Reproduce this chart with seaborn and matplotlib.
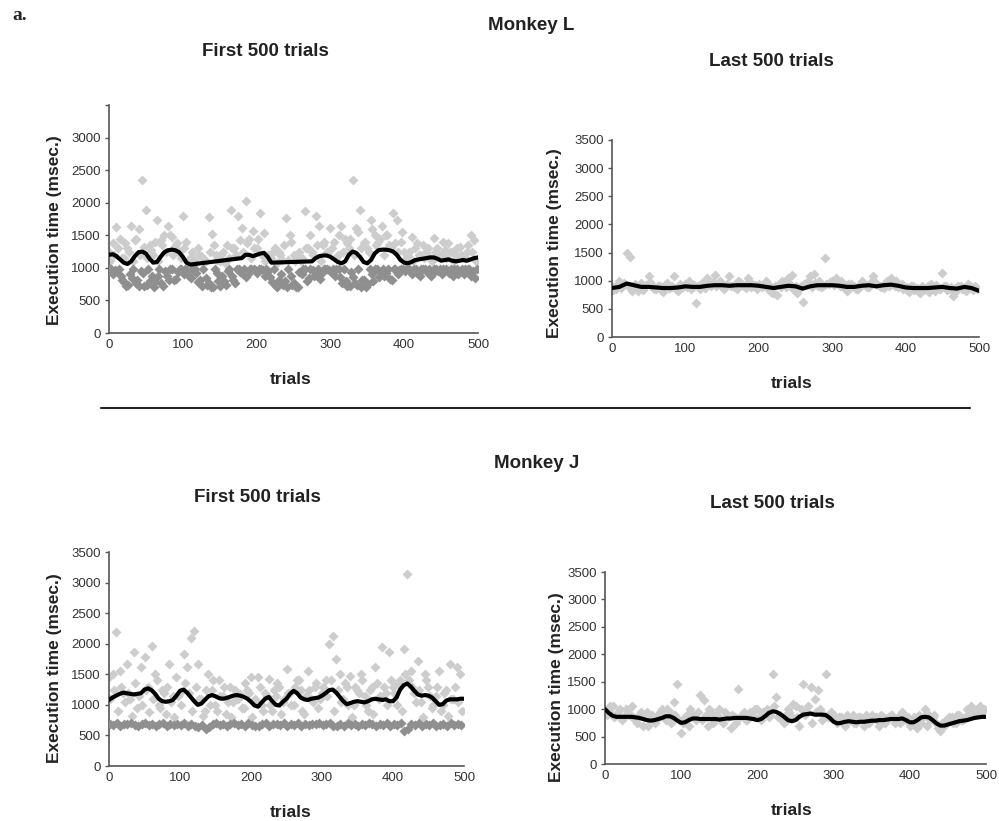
import numpy as np
import matplotlib
matplotlib.use("Agg")
from matplotlib import pyplot as plt
from matplotlib.lines import Line2D
import seaborn as sns

# trial indices for the plotted samples
trials_a = np.arange(0, 500, 5)
trials_b = trials_a + 2
trials_c = trials_a + 1
trials_d = trials_a + 3
trials_line5 = np.arange(0, 501, 5)
trials_line10 = np.arange(0, 501, 10)

# ---- Monkey L, first 500 trials ----
l_first_light_a = [1250, 1380, 1620, 1450, 1150, 1300, 1640, 1420, 1600, 2350, 1890, 1350, 1200, 1740, 1420, 1500, 1640, 1480, 1330, 1250,
                   1790, 1400, 1150, 1120, 1300, 1180, 1100, 1780, 1520, 1200, 1100, 1250, 1350, 1890, 1300, 1790, 1610, 2020, 1450, 1560,
                   1300, 1840, 1530, 1200, 1150, 1300, 1250, 1120, 1760, 1510, 1200, 1150, 1100, 1870, 1300, 1250, 1790, 1640, 1350, 1250,
                   1610, 1400, 1200, 1640, 1450, 1300, 2350, 1610, 1890, 1380, 1300, 1740, 1500, 1400, 1640, 1500, 1350, 1840, 1740, 1400,
                   1250, 1180, 1480, 1300, 1200, 1350, 1250, 1150, 1460, 1300, 1200, 1280, 1380, 1250, 1200, 1320, 1180, 1250, 1510, 1430]
l_first_light_b = [1100, 1200, 1300, 1150, 1380, 1250, 1100, 1450, 1200, 1320, 1150, 1280, 1400, 1100, 1350, 1250, 1500, 1200, 1380, 1150,
                   1300, 1100, 1250, 1080, 1200, 1150, 1100, 1250, 1350, 1120, 1200, 1080, 1150, 1300, 1200, 1420, 1250, 1380, 1150, 1300,
                   1450, 1200, 1100, 1150, 1250, 1080, 1200, 1350, 1120, 1400, 1100, 1250, 1150, 1300, 1500, 1200, 1350, 1100, 1400, 1250,
                   1300, 1150, 1500, 1250, 1380, 1450, 1200, 1550, 1300, 1400, 1250, 1600, 1350, 1450, 1200, 1500, 1300, 1380, 1250, 1550,
                   1150, 1250, 1100, 1380, 1200, 1150, 1300, 1100, 1250, 1200, 1400, 1150, 1250, 1100, 1300, 1200, 1150, 1350, 1250, 1100]
l_first_dark_a = [990, 900, 950, 880, 780, 730, 850, 760, 720, 920, 740, 800, 710, 880, 760, 950, 820, 980, 830, 990,
                  900, 960, 850, 990, 780, 720, 840, 760, 700, 920, 720, 800, 950, 870, 760, 990, 900, 860, 980, 990,
                  920, 990, 880, 950, 780, 720, 820, 740, 710, 880, 760, 700, 900, 990, 850, 960, 900, 830, 980, 990,
                  940, 880, 990, 760, 800, 720, 860, 730, 710, 820, 750, 900, 980, 860, 990, 920, 830, 980, 900, 990,
                  950, 990, 900, 980, 880, 990, 930, 870, 990, 950, 900, 980, 920, 880, 990, 940, 900, 980, 870, 850]
l_first_dark_b = [990, 960, 990, 820, 720, 900, 990, 820, 950, 720, 990, 880, 780, 990, 720, 880, 990, 820, 930, 990,
                  990, 880, 990, 920, 820, 990, 740, 700, 990, 800, 880, 740, 990, 820, 990, 940, 990, 900, 990, 960,
                  990, 960, 990, 860, 990, 700, 900, 800, 990, 740, 700, 940, 990, 800, 990, 880, 990, 920, 990, 960,
                  990, 990, 860, 990, 720, 940, 760, 990, 820, 710, 990, 800, 990, 940, 880, 990, 820, 990, 960, 990,
                  990, 960, 990, 920, 990, 980, 990, 900, 990, 990, 990, 960, 990, 990, 900, 990, 980, 990, 950, 990]
l_first_avg = [1200, 1210, 1180, 1130, 1080, 1060, 1100, 1180, 1240, 1250, 1220, 1140, 1080, 1090, 1170, 1240, 1270, 1280, 1270, 1240,
               1170, 1080, 1050, None, None, None, None, None, None, None, None, None, None, None, None, None, 1150, 1200, 1200, 1180,
               1200, 1220, 1230, 1170, 1080, None, None, None, None, None, None, None, None, None, None, 1100, 1150, 1180, 1190, 1190,
               1170, 1130, 1090, 1070, 1100, 1200, 1250, 1230, 1170, 1090, 1070, 1120, 1220, 1270, 1280, 1280, 1270, 1250, 1200, 1120,
               1080, 1070, 1090, 1120, 1130, 1140, 1150, 1160, 1160, 1140, 1110, 1120, 1130, 1110, 1100, 1110, 1120, 1110, 1130, 1150,
               1160]

# ---- Monkey L, last 500 trials ----
l_last_light_a = [900, 850, 1000, 950, 1490, 1430, 880, 820, 960, 900, 1075, 920, 850, 900, 800, 960, 880, 1075, 820, 900,
                  950, 1000, 880, 600, 860, 920, 1050, 900, 1100, 950, 880, 920, 1080, 900, 850, 980, 900, 1050, 880, 920,
                  950, 880, 1000, 900, 780, 750, 880, 950, 1050, 1100, 900, 860, 630, 950, 1080, 1120, 900, 880, 1410, 950,
                  1000, 1050, 900, 880, 820, 950, 900, 850, 1000, 920, 880, 1075, 950, 900, 870, 1000, 1050, 900, 880, 950,
                  850, 800, 900, 870, 780, 850, 900, 950, 820, 870, 1135, 900, 850, 720, 880, 900, 850, 950, 880, 900]
l_last_light_b = [830, 920, 870, 960, 900, 820, 950, 880, 840, 920, 980, 860, 900, 840, 930, 870, 910, 850, 940, 880,
                  880, 850, 930, 900, 960, 870, 940, 980, 900, 1000, 860, 950, 900, 880, 1000, 920, 870, 1000, 900, 860,
                  900, 940, 860, 800, 900, 950, 1000, 880, 940, 860, 780, 900, 950, 1000, 880, 960, 1000, 900, 950, 980,
                  920, 960, 1000, 880, 940, 900, 860, 920, 950, 880, 960, 1000, 920, 880, 960, 900, 940, 1000, 900, 860,
                  880, 900, 840, 820, 900, 860, 800, 880, 920, 860, 900, 840, 880, 800, 900, 860, 820, 880, 840, 860]
l_last_avg = [870, 890, 950, 920, 890, 890, 880, 870, 870, 880, 900, 890, 890, 910, 920, 920, 910, 920, 920, 920,
              910, 890, 870, 890, 910, 900, 860, 900, 920, 920, 920, 910, 890, 890, 910, 920, 900, 920, 930, 910,
              880, 870, 870, 870, 880, 890, 870, 860, 890, 870, 820]

# ---- Monkey J, first 500 trials ----
j_first_light_a = [1450, 1505, 2185, 1560, 1200, 1670, 1100, 1860, 950, 1615, 1777, 1300, 1967, 1505, 1000, 1250, 850, 1670, 1150, 1450,
                   1200, 1830, 1615, 2100, 2210, 1670, 1100, 900, 1505, 1250, 1000, 1400, 1150, 850, 1300, 1050, 1200, 1180, 950, 1250,
                   1450, 1100, 1450, 1000, 1200, 1425, 900, 1150, 1300, 1050, 1590, 1200, 1000, 1400, 1250, 850, 1560, 1100, 1300, 950,
                   1200, 1400, 1995, 2130, 1750, 1505, 1100, 1300, 1480, 1000, 1250, 1505, 1150, 900, 1300, 1615, 1100, 1940, 1200, 1860,
                   1300, 1000, 1400, 1913, 3136, 1560, 1200, 1723, 1050, 1505, 1300, 950, 1150, 1560, 1000, 1250, 1670, 1100, 1615, 1505]
j_first_light_b = [1100, 1250, 900, 1300, 1050, 1200, 820, 1350, 1150, 1000, 1250, 880, 1100, 1400, 950, 1200, 1300, 1050, 800, 1150,
                   1000, 1350, 1200, 900, 1300, 1100, 820, 1250, 1000, 1400, 900, 1150, 1300, 1050, 800, 1250, 1100, 950, 1350, 1200,
                   800, 1050, 1300, 900, 1150, 1000, 1250, 1350, 850, 1100, 1200, 1000, 1300, 1400, 900, 1150, 1250, 1050, 1350, 1100,
                   1300, 1150, 1400, 900, 1250, 1050, 1350, 1000, 800, 1300, 1200, 1400, 1000, 1250, 850, 1350, 1150, 1300, 1000, 1400,
                   1200, 1350, 900, 1500, 1400, 1300, 1050, 1250, 800, 1400, 1150, 1000, 1300, 900, 1200, 820, 1100, 1300, 1050, 900]
j_first_dark = [690, 670, 700, 660, 690, 680, 700, 670, 660, 690, 700, 670, 690, 660, 680, 700, 660, 690, 670, 690,
                670, 700, 660, 690, 660, 640, 670, 600, 630, 690, 700, 670, 690, 660, 680, 700, 670, 690, 660, 700,
                670, 650, 660, 690, 700, 660, 680, 690, 670, 700, 660, 690, 670, 700, 660, 690, 670, 690, 680, 700,
                670, 690, 700, 660, 660, 680, 650, 700, 670, 690, 660, 690, 670, 700, 680, 660, 690, 670, 700, 660,
                690, 670, 700, 570, 600, 680, 670, 700, 660, 690, 670, 700, 660, 670, 690, 660, 700, 670, 690, 670]
j_first_avg = [1080, 1120, 1150, 1180, 1200, 1190, 1180, 1170, 1180, 1190, 1250, 1270, 1240, 1180, 1100, 1060, 1050, 1060, 1080, 1150,
               1230, 1250, 1200, 1130, 1060, 1000, 1020, 1080, 1140, 1160, 1140, 1110, 1100, 1110, 1130, 1150, 1160, 1150, 1130, 1100,
               1050, 990, 970, 1040, 1100, 1130, 1060, 1000, 990, 1050, 1100, 1180, 1230, 1190, 1120, 1090, 1080, 1100, 1110, 1120,
               1150, 1190, 1240, 1250, 1200, 1130, 1060, 1010, 1030, 1050, 1060, 1050, 1040, 1060, 1090, 1100, 1090, 1080, 1090, 1060,
               1060, 1120, 1250, 1320, 1350, 1300, 1230, 1170, 1150, 1160, 1150, 1120, 1060, 1000, 1010, 1070, 1090, 1090, 1090, 1100,
               1100]

# ---- Monkey J, last 500 trials ----
j_last_light_a = [1000, 950, 1050, 900, 1000, 850, 950, 1050, 800, 900, 700, 950, 850, 750, 900, 1000, 800, 950, 1133, 1464,
                  560, 850, 700, 900, 800, 1253, 1163, 700, 950, 850, 1000, 750, 900, 650, 850, 1373, 900, 800, 950, 850,
                  1000, 800, 950, 850, 1645, 1223, 900, 750, 1000, 850, 1050, 700, 1464, 950, 1404, 1193, 1343, 800, 1645, 850,
                  900, 750, 850, 700, 800, 900, 750, 850, 700, 800, 900, 850, 700, 850, 800, 900, 750, 850, 950, 800,
                  700, 850, 650, 750, 1000, 900, 850, 750, 600, 700, 800, 850, 750, 900, 800, 1000, 1050, 900, 1000, 950]
j_last_light_b = [900, 1050, 850, 950, 800, 1000, 900, 850, 750, 950, 850, 700, 900, 800, 950, 850, 1000, 750, 900, 800,
                  750, 900, 1000, 850, 950, 800, 900, 1000, 750, 900, 800, 950, 850, 900, 750, 850, 950, 800, 900, 1000,
                  850, 950, 1000, 900, 1050, 850, 800, 900, 950, 1100, 850, 1000, 900, 1050, 750, 950, 1000, 900, 850, 950,
                  800, 850, 750, 900, 800, 750, 850, 800, 900, 750, 850, 800, 900, 750, 850, 900, 800, 750, 900, 850,
                  800, 750, 900, 850, 700, 800, 900, 650, 750, 800, 850, 750, 900, 800, 850, 900, 1000, 950, 1050, 1000]
j_last_avg = [1000, 930, 880, 860, 860, 860, 860, 860, 850, 840, 820, 800, 790, 800, 820, 840, 870, 870, 840, 790,
              750, 760, 800, 830, 830, 820, 820, 820, 820, 820, 810, 820, 830, 830, 840, 840, 840, 840, 830, 820,
              800, 820, 870, 930, 960, 950, 910, 860, 800, 780, 800, 860, 900, 910, 920, 900, 900, 900, 890, 840,
              770, 740, 750, 770, 780, 770, 760, 770, 770, 780, 790, 790, 800, 800, 810, 820, 820, 820, 830, 800,
              760, 760, 800, 850, 860, 850, 800, 740, 700, 700, 720, 740, 760, 780, 790, 800, 820, 840, 850, 860,
              860]

light = "#cdcdcd"
dark = "#8f8f8f"

sns.set_style("white")
plt.rcParams['font.family'] = ['Liberation Sans', 'DejaVu Sans']

W, H = 999, 821
fig = plt.figure(figsize=(W / 100, H / 100), dpi=100)


def px_axes(left, right, bottom, top):
    return fig.add_axes([left / W, 1 - bottom / H, (right - left) / W, (bottom - top) / H])


def draw_panel(ax, lights, darks, avg, avg_x, show_top_label=True):
    for tx, vals in lights:
        sns.scatterplot(x=tx, y=np.array(vals, dtype=float), ax=ax, marker="D", s=26,
                        color=light, linewidth=0, legend=False, zorder=2)
    for tx, vals in darks:
        sns.scatterplot(x=tx, y=np.array(vals, dtype=float), ax=ax, marker="D", s=26,
                        color=dark, linewidth=0, legend=False, zorder=3)
    avg = np.array([np.nan if v is None else v for v in avg], dtype=float)
    sns.lineplot(x=avg_x, y=avg, ax=ax, color="black", linewidth=3, zorder=4)
    ax.set_xlim(0, 500)
    ax.set_ylim(0, 3500)
    ax.set_xticks(range(0, 501, 100))
    ax.set_yticks(range(0, 3501, 500))
    if not show_top_label:
        ax.set_yticklabels([str(v) for v in range(0, 3001, 500)] + [""])
    for side in ["top", "right"]:
        ax.spines[side].set_visible(False)
    for side in ["left", "bottom"]:
        ax.spines[side].set_color("#555555")
        ax.spines[side].set_linewidth(1.2)
    ax.tick_params(axis="y", length=3, width=1, color="#555555", labelsize=9.5,
                   labelcolor="#333333", pad=3, left=True)
    ax.tick_params(axis="x", length=0, labelsize=9.5, labelcolor="#333333", pad=4)
    ax.set_xlabel("")
    ax.set_ylabel("")


ax1 = px_axes(109, 478, 333, 105)
draw_panel(ax1, [(trials_a, l_first_light_a), (trials_b, l_first_light_b)],
           [(trials_c, l_first_dark_a), (trials_d, l_first_dark_b)],
           l_first_avg, trials_line5, show_top_label=False)

ax2 = px_axes(612, 979, 337, 140)
draw_panel(ax2, [(trials_a, l_last_light_a), (trials_b, l_last_light_b)], [],
           l_last_avg, trials_line10)

ax3 = px_axes(109, 464, 766, 552)
draw_panel(ax3, [(trials_a, j_first_light_a), (trials_b, j_first_light_b)],
           [(trials_c, j_first_dark)], j_first_avg, trials_line5)

ax4 = px_axes(605, 986, 764, 572)
draw_panel(ax4, [(trials_a, j_last_light_a), (trials_b, j_last_light_b)], [],
           j_last_avg, trials_line5)


def ftext(x, y, s, **kw):
    fig.text(x / W, 1 - y / H, s, ha="center", va="center", **kw)


ftext(20, 15, "a.", fontsize=14, fontweight="bold", family="Liberation Serif")
ftext(531, 25, "Monkey L", fontsize=13.5, fontweight="bold", color="#222222")
ftext(537, 464, "Monkey J", fontsize=13.5, fontweight="bold", color="#222222")
ftext(265, 52, "First 500 trials", fontsize=13.5, fontweight="bold", color="#222222")
ftext(771, 62, "Last 500 trials", fontsize=13.5, fontweight="bold", color="#222222")
ftext(257, 497, "First 500 trials", fontsize=13.5, fontweight="bold", color="#222222")
ftext(772, 503, "Last 500 trials", fontsize=13.5, fontweight="bold", color="#222222")
for x, y in [(291, 380), (792, 383), (291, 812), (792, 810)]:
    ftext(x, y, "trials", fontsize=12.5, fontweight="bold", color="#222222")
for x, y in [(55, 230), (555, 243), (55, 668), (557, 687)]:
    ftext(x, y, "Execution time (msec.)", fontsize=12.5, fontweight="bold",
          color="#222222", rotation=90)

fig.add_artist(Line2D([101 / W, 970 / W], [1 - 408 / H, 1 - 408 / H],
                      color="#222222", linewidth=1.5))

fig.savefig("out.png", dpi=100)
